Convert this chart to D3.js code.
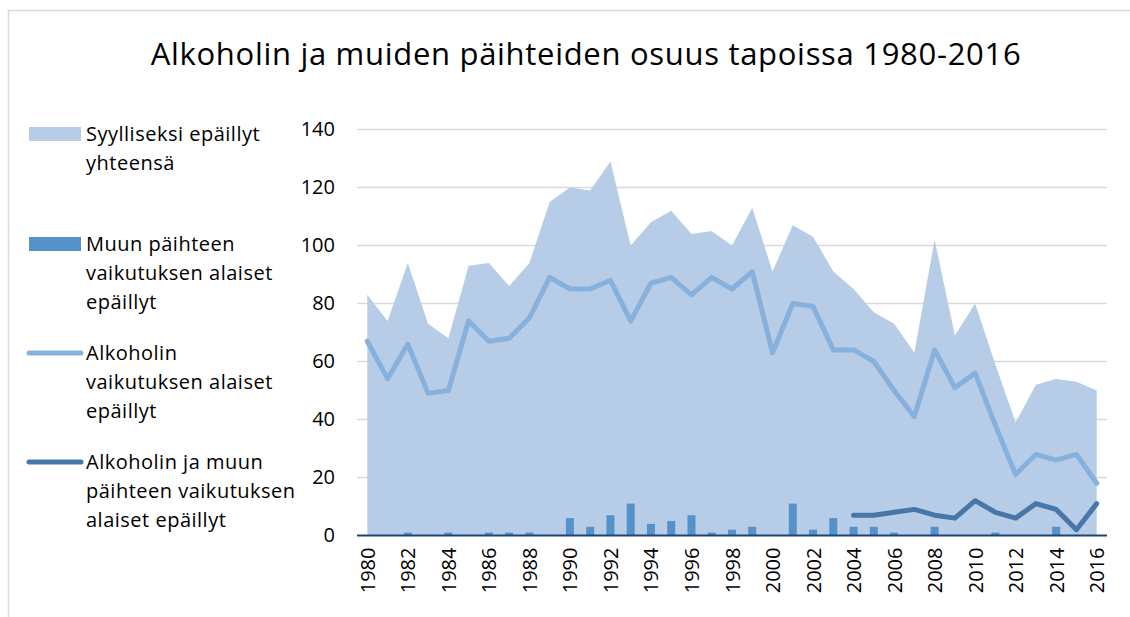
<!DOCTYPE html>
<html>

<head>
  <meta http-equiv="Content-Type" content="text/html;charset=utf-8">
  <title>Alkoholin ja muiden päihteiden osuus tapoissa</title>
  <script src="https://d3js.org/d3.v7.min.js"></script>
  <style>
    html,
    body {
      margin: 0;
      padding: 0;
      background: #fff;
    }

    text {
      font-family: "Open Sans", sans-serif;
      fill: #000;
    }
  </style>
</head>

<body>

  <script type="text/javascript">

    // data
    var years = d3.range(1980, 2017);
    var total = [83, 74, 94, 73, 68, 93, 94, 86, 94, 115, 120, 119, 129, 100, 108, 112, 104, 105, 100, 113,
      91, 107, 103, 91, 85, 77, 73, 63, 102, 69, 80, 59, 39, 52, 54, 53, 50];
    var other = [0, 0, 1, 0, 1, 0, 1, 1, 1, 0, 6, 3, 7, 11, 4, 5, 7, 1, 2, 3,
      0, 11, 2, 6, 3, 3, 1, 0, 3, 0, 0, 1, 0, 0, 3, 0, 0];
    var alcohol = [67, 54, 66, 49, 50, 74, 67, 68, 75, 89, 85, 85, 88, 74, 87, 89, 83, 89, 85, 91,
      63, 80, 79, 64, 64, 60, 50, 41, 64, 51, 56, 38, 21, 28, 26, 28, 18];
    var both = [null, null, null, null, null, null, null, null, null, null, null, null, null, null, null, null, null, null, null, null,
      null, null, null, null, 7, 7, 8, 9, 7, 6, 12, 8, 6, 11, 9, 2, 11];
    var yTicks = [0, 20, 40, 60, 80, 100, 120, 140];
    var xTicks = d3.range(1980, 2017, 2);

    var legendItems = [
      { type: "area", color: "#b7cce6", lines: ["Syylliseksi epäillyt", "yhteensä"], y: 134 },
      { type: "bar", color: "#5592c9", lines: ["Muun päihteen", "vaikutuksen alaiset", "epäillyt"], y: 244 },
      { type: "line", color: "#87b1dd", lines: ["Alkoholin", "vaikutuksen alaiset", "epäillyt"], y: 353 },
      { type: "line", color: "#4677a8", lines: ["Alkoholin ja muun", "päihteen vaikutuksen", "alaiset epäillyt"], y: 462 }
    ];

    var W = 1130, H = 617;

    var svg = d3.select("body").append("svg")
      .attr("width", W)
      .attr("height", H);

    // chart frame (only top and left edges visible)
    svg.append("rect")
      .attr("x", 8.5).attr("y", 10.5)
      .attr("width", 1200).attr("height", 700)
      .attr("fill", "none")
      .attr("stroke", "#d9d9d9")
      .attr("stroke-width", 1.5);

    svg.append("text")
      .attr("x", 586)
      .attr("y", 65)
      .attr("text-anchor", "middle")
      .style("font-size", "31px")
      .style("letter-spacing", "0.7px")
      .text("Alkoholin ja muiden päihteiden osuus tapoissa 1980-2016");

    var x = d3.scaleLinear().domain([1980, 2016]).range([367.3, 1096.7]);
    var y = d3.scaleLinear().domain([0, 140]).range([535.5, 129.5]);

    // gridlines
    svg.append("g")
      .selectAll("line")
      .data(yTicks.slice(1))
      .enter().append("line")
      .attr("x1", 357).attr("x2", 1107)
      .attr("y1", function (d) { return y(d); })
      .attr("y2", function (d) { return y(d); })
      .attr("stroke", "#d9d9d9")
      .attr("stroke-width", 1.5);

    // y axis labels
    var yAxis = d3.axisLeft(y).tickValues(yTicks).tickSize(0).tickPadding(0);
    var gy = svg.append("g")
      .attr("transform", "translate(335,0)")
      .call(yAxis);
    gy.select(".domain").remove();
    gy.selectAll("text")
      .style("font-family", "'Open Sans', sans-serif")
      .style("font-size", "20px")
      .attr("fill", "#000");

    // total area
    var area = d3.area()
      .x(function (d, i) { return x(years[i]); })
      .y0(y(0))
      .y1(function (d) { return y(d); });

    svg.append("path")
      .datum(total)
      .attr("d", area)
      .attr("fill", "#b7cce6");

    // other substance bars
    svg.append("g")
      .selectAll("rect")
      .data(other)
      .enter().append("rect")
      .attr("x", function (d, i) { return x(years[i]) - 4; })
      .attr("width", 8)
      .attr("y", function (d) { return y(d); })
      .attr("height", function (d) { return y(0) - y(d); })
      .attr("fill", "#5592c9");

    // lines
    var line = d3.line()
      .defined(function (d) { return d !== null; })
      .x(function (d, i) { return x(years[i]); })
      .y(function (d) { return y(d); });

    svg.append("path")
      .datum(alcohol)
      .attr("d", line)
      .attr("fill", "none")
      .attr("stroke", "#87b1dd")
      .attr("stroke-width", 5)
      .attr("stroke-linejoin", "round")
      .attr("stroke-linecap", "round");

    svg.append("path")
      .datum(both)
      .attr("d", line)
      .attr("fill", "none")
      .attr("stroke", "#4677a8")
      .attr("stroke-width", 5)
      .attr("stroke-linejoin", "round")
      .attr("stroke-linecap", "round");

    // x axis
    var xAxis = d3.axisBottom(x).tickValues(xTicks).tickSize(0).tickPadding(0).tickFormat(d3.format("d"));
    var gx = svg.append("g")
      .attr("transform", "translate(0," + y(0) + ")")
      .call(xAxis);
    gx.select(".domain").remove();
    gx.selectAll("text")
      .style("font-family", "'Open Sans', sans-serif")
      .style("font-size", "20px")
      .attr("fill", "#000")
      .attr("transform", "rotate(-90)")
      .attr("x", -12)
      .attr("y", 0)
      .attr("dy", "0.35em")
      .attr("text-anchor", "end");

    svg.append("line")
      .attr("x1", 357).attr("x2", 1107)
      .attr("y1", y(0)).attr("y2", y(0))
      .attr("stroke", "#1c4474")
      .attr("stroke-width", 2);

    // legend
    var lg = svg.append("g").selectAll("g")
      .data(legendItems)
      .enter().append("g");

    lg.each(function (d) {
      var g = d3.select(this);
      if (d.type === "line") {
        g.append("line")
          .attr("x1", 29).attr("x2", 81)
          .attr("y1", d.y).attr("y2", d.y)
          .attr("stroke", d.color)
          .attr("stroke-width", 5)
          .attr("stroke-linecap", "round");
      } else {
        g.append("rect")
          .attr("x", 29).attr("y", d.y - 7)
          .attr("width", 52).attr("height", 14)
          .attr("fill", d.color);
      }
      var t = g.append("text")
        .attr("x", 86)
        .attr("y", d.y + 7)
        .style("font-size", "20px")
        .style("letter-spacing", "0.5px");
      t.selectAll("tspan")
        .data(d.lines)
        .enter().append("tspan")
        .attr("x", 86)
        .attr("dy", function (s, i) { return i === 0 ? 0 : 29; })
        .text(function (s) { return s; });
    });

  </script>
</body>

</html>
